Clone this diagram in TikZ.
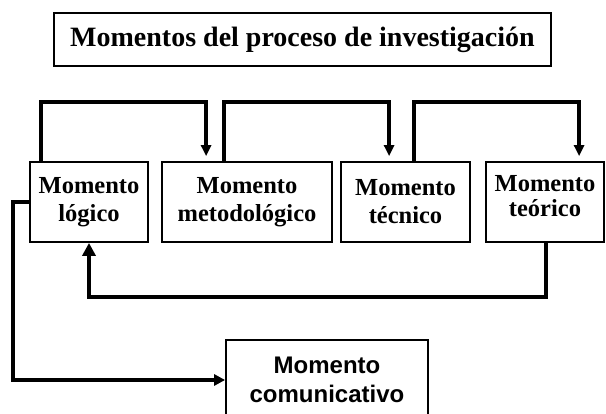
\documentclass[tikz,border=0pt]{standalone}
\usepackage{fontspec}
\setmainfont{Liberation Serif}
\newfontfamily\arialfont{Liberation Sans}
\usetikzlibrary{arrows.meta}

\begin{document}
\begin{tikzpicture}[x=1pt, y=-1pt,
    momento/.style={draw, line width=1.8pt, minimum height=80pt, align=center,
        inner sep=0pt, font=\bfseries\fontsize{24.5}{28}\selectfont},
    enlace/.style={line width=3.4pt, -{Triangle[length=11pt,width=10pt]}, shorten >=5pt},
    retorno/.style={line width=4.6pt, -{Triangle[length=13pt,width=13pt]}},
    salida/.style={line width=4pt, -{Triangle[length=11pt,width=11pt]}}]
                \useasboundingbox (0,0) rectangle (606,414);
                \clip (0,0) rectangle (606,414);

                % Draw the title box
                \node[draw, line width=2.6pt, minimum width=497pt, minimum height=53pt,
                    font=\bfseries\fontsize{28}{32}\selectfont] (titulo) at (302.5,39.5)
                    {Momentos del proceso de investigación};

                % Draw the four moments
                \node[momento, minimum width=118pt] (logico) at (89,202) {Momento\\lógico};
                \node[momento, minimum width=170pt] (metodo) at (247,202) {Momento\\metodológico};
                \node[momento, minimum width=129pt] (tecnico) at (405.5,202) {Momento\\técnico};
                \node[momento, minimum width=118pt, text depth=12pt] (teorico) at (545,202) {Momento\\[-3pt]teórico};

                % Draw the communicative moment
                \node[momento, minimum width=202pt, font=\arialfont\bfseries\fontsize{24}{29}\selectfont]
                    (comunic) at (327,380) {Momento\\comunicativo};

                % Draw the links over the boxes
                \draw[enlace] ([xshift=12pt]logico.north west) -- ++(0,-59) -| ([xshift=45pt]metodo.north west);
                \draw[enlace] ([xshift=63pt]metodo.north west) -- ++(0,-59) -| ([xshift=49pt]tecnico.north west);
                \draw[enlace] ([xshift=74pt]tecnico.north west) -- ++(0,-59) -| ([xshift=94pt]teorico.north west);

                % Draw the return to the logical moment
                \draw[retorno] ([xshift=61pt]teorico.south west) -- ++(0,54) -| (logico.south);

                % Draw the way out to the communicative moment
                \draw[salida] (logico.west) -- ++(-16,0) |- (comunic.west);

            \end{tikzpicture}
\end{document}
